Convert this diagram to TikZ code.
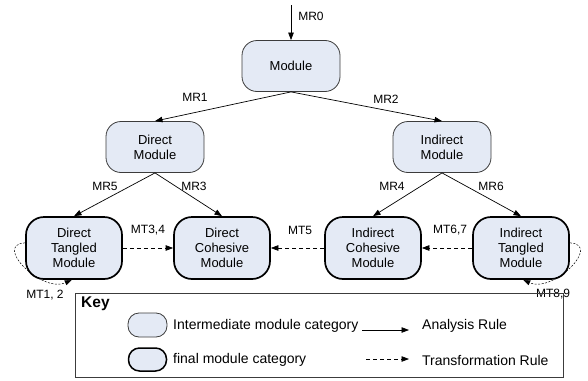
\documentclass[tikz,border=0pt]{standalone}
\usepackage{fontspec}
\setmainfont{Liberation Sans}
\usetikzlibrary{arrows.meta}
\definecolor{boxfill}{RGB}{228,234,245}
\definecolor{edgegray}{RGB}{60,60,60}
\begin{document}
\begin{tikzpicture}[x=1pt,y=-1pt,
  inter/.style={draw=edgegray, line width=0.8pt, fill=boxfill, rounded corners=15pt,
    minimum width=98pt, minimum height=51pt, inner sep=0pt, align=center,
    font=\fontsize{13}{15}\selectfont},
  final/.style={draw=black, line width=1.7pt, fill=boxfill, rounded corners=18pt,
    minimum width=96pt, minimum height=62pt, inner sep=0pt, align=center,
    font=\fontsize{13}{15}\selectfont},
  arule/.style={-{Triangle[length=7.5pt,width=5.5pt]}, line width=0.7pt},
  trule/.style={-{Triangle[length=7.5pt,width=5.5pt]}, line width=0.7pt, dash pattern=on 4pt off 3pt},
  selfloop/.style={-{Triangle[length=7pt,width=5pt]}, line width=0.5pt, dash pattern=on 2pt off 1.5pt},
  lbl/.style={font=\fontsize{12}{14}\selectfont, inner sep=0pt},
  keytxt/.style={font=\fontsize{14}{16}\selectfont, inner sep=0pt, anchor=west},
]
\useasboundingbox (0,0) rectangle (588,380);

% hierarchy of module categories
\node[inter] (mod) at (291,66) {Module};
\node[inter] (dir) at (155,147) {Direct\\Module};
\node[inter] (ind) at (442,147) {Indirect\\Module};
\node[final] (dtm) at (74,248) {Direct\\Tangled\\Module};
\node[final] (dcm) at (222,248) {Direct\\Cohesive\\Module};
\node[final] (icm) at (373,248) {Indirect\\Cohesive\\Module};
\node[final] (itm) at (521,248) {Indirect\\Tangled\\Module};

% analysis rules
\coordinate (entry) at (291,5);
\draw[arule] (entry) -- (mod.north);
\draw[arule] (mod.south) -- (dir.north);
\draw[arule] (mod.south) -- (ind.north);
\draw[arule] (dir.south) -- (dtm.north);
\draw[arule] (dir.south) -- (dcm.north);
\draw[arule] (ind.south) -- (icm.north);
\draw[arule] (ind.south) -- (itm.north);

\node[lbl] (mr0) at (311,16) {MR0};
\node[lbl] (mr1) at (195,97) {MR1};
\node[lbl] (mr2) at (386,99) {MR2};
\node[lbl] (mr5) at (105,186) {MR5};
\node[lbl] (mr3) at (194,186) {MR3};
\node[lbl] (mr4) at (392,186) {MR4};
\node[lbl] (mr6) at (491,186) {MR6};

% transformation rules
\draw[trule] (dtm.east) -- (dcm.west);
\draw[trule] (icm.west) -- (dcm.east);
\draw[trule] (itm.west) -- (icm.east);
\node[lbl] (mt34) at (148,230) {MT3,4};
\node[lbl] (mt5) at (300,230) {MT5};
\node[lbl] (mt67) at (450,230) {MT6,7};

\draw[selfloop] (dtm.174) to[out=183, in=205, looseness=1.4] (dtm.266);
\draw[selfloop] (itm.6) to[out=357, in=335, looseness=1.4] (itm.274);
\node[lbl] (mt12) at (45,295) {MT1, 2};
\node[lbl] (mt89) at (553,294) {MT8,9};

% key
\draw[draw=edgegray, line width=0.8pt] (75,293) rectangle (563,377);
\node[font=\fontsize{15.5}{17}\selectfont\bfseries, inner sep=0pt, anchor=west] (key) at (81,304) {Key};
\node[inter, minimum width=39pt, minimum height=24pt, rounded corners=11pt] (kint) at (147.5,325) {};
\node[final, minimum width=38pt, minimum height=23pt, rounded corners=11pt, line width=1.5pt] (kfin) at (147.5,359.5) {};
\node[keytxt] (tint) at (173,326) {Intermediate module category};
\node[keytxt] (tfin) at (173,360) {final module category};
\coordinate (ka) at (362,330);
\coordinate (kb) at (409,330);
\coordinate (kc) at (366,359);
\coordinate (kd) at (409,359);
\draw[arule] (ka) -- (kb);
\draw[trule] (kc) -- (kd);
\node[keytxt] (tana) at (422,326) {Analysis Rule};
\node[keytxt] (ttra) at (422,360) {Transformation Rule};
\end{tikzpicture}
\end{document}
